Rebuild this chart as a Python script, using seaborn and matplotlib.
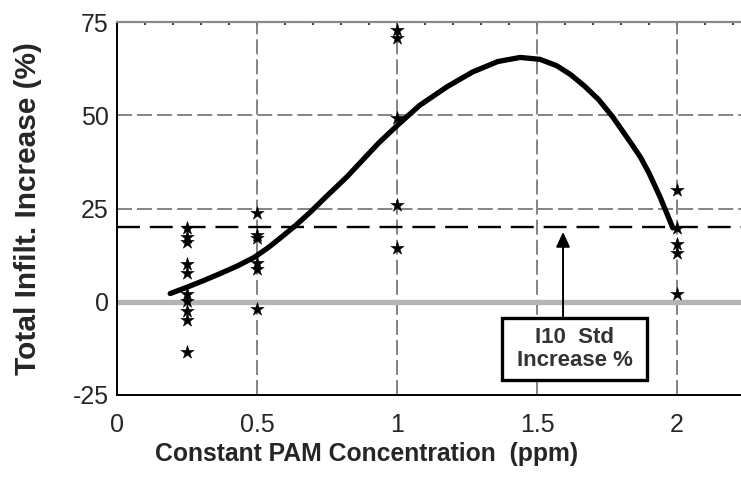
import numpy as np
import pandas as pd
import matplotlib
matplotlib.use("Agg")
import matplotlib.pyplot as plt
import matplotlib.patches as mpatches
import seaborn as sns
from matplotlib.ticker import MultipleLocator, FixedLocator, NullFormatter

# ---- data ----
obs_x_025 = [0.25] * 10
obs_y_025 = [19.7, 17.3, 15.9, 10.2, 7.8, 2.2, 0.3, -2.5, -5.0, -13.5]
obs_x_05 = [0.5] * 6
obs_y_05 = [23.7, 17.8, 17.0, 10.5, 8.9, -1.9]
obs_x_1 = [1.0] * 5
obs_y_1 = [72.8, 70.7, 49.3, 25.9, 14.3]
obs_x_2 = [2.0] * 5
obs_y_2 = [29.9, 19.8, 15.6, 13.0, 2.0]

curve_x = [0.19, 0.25, 0.31, 0.37, 0.43, 0.49, 0.54, 0.59, 0.64, 0.69, 0.75,
           0.82, 0.88, 0.935, 1.00, 1.08, 1.18, 1.27, 1.36, 1.44, 1.51,
           1.57, 1.62, 1.67, 1.72, 1.77, 1.835, 1.87, 1.90, 1.94, 1.985]
curve_y = [2.2, 3.9, 5.7, 7.6, 9.6, 11.9, 14.5, 17.5, 20.6, 24.0, 28.4,
           33.4, 38.2, 42.6, 47.2, 52.6, 57.7, 61.6, 64.4, 65.5, 65.0,
           63.3, 60.9, 57.8, 54.2, 49.6, 42.6, 38.7, 34.5, 28.0, 19.8]

std_increase = 20.0
x_ticks = [0, 0.5, 1, 1.5, 2]
x_tick_labels = ["0", "0.5", "1", "1.5", "2"]
y_ticks = [-25, 0, 25, 50, 75]
y_tick_labels = ["-25", "0", "25", "50", "75"]
x_label = "Constant PAM Concentration  (ppm)"
y_label = "Total Infilt. Increase (%)"
box_text = "I10  Std\nIncrease %"

obs = pd.DataFrame({
    "x": obs_x_025 + obs_x_05 + obs_x_1 + obs_x_2,
    "y": obs_y_025 + obs_y_05 + obs_y_1 + obs_y_2,
})
curve = pd.DataFrame({"x": curve_x, "y": curve_y})

# ---- style ----
sns.set_style("white")
plt.rcParams["font.family"] = ["Liberation Sans", "DejaVu Sans"]

fig = plt.figure(figsize=(7.41, 4.78), dpi=100)
ax = fig.add_axes([117 / 741, 83 / 478, (741 - 117) / 741, 373 / 478])

ax.set_xlim(0, (741 - 117) / 280)
ax.set_ylim(-25, 75)

# grid lines
grid_kw = dict(color="#7a7a7a", lw=1.3, dashes=(8.3, 2.8), zorder=1)
for gx in [0.5, 1.0, 1.5, 2.0]:
    ax.axvline(gx, **grid_kw)
for gy in [25, 50]:
    ax.axhline(gy, **grid_kw)
ax.axhline(0, color="#b4b4b4", lw=3.8, zorder=1.5)
ax.axhline(std_increase, color="black", lw=1.7, dashes=(9.7, 4.2), zorder=2)

# data
sns.lineplot(data=curve, x="x", y="y", ax=ax, color="black", lw=3.8,
             sort=False, estimator=None, zorder=4,
             solid_capstyle="round", solid_joinstyle="round")
sns.scatterplot(data=obs, x="x", y="y", ax=ax, marker="*", s=105,
                color="black", edgecolor="black", linewidth=0.3, zorder=5)

# annotation box and arrow
ax.annotate("", xy=(1.593, 18.7), xytext=(1.593, -4.4),
            arrowprops=dict(arrowstyle="-|>,head_length=0.9,head_width=0.42",
                            color="black", lw=1.4, shrinkA=0, shrinkB=0),
            zorder=6)
ax.add_patch(mpatches.Rectangle((1.375, -21.0), 1.893 - 1.375, 21.0 - 4.4,
                                fc="white", ec="black", lw=2.4, zorder=7))
ax.text(1.634, -12.7, box_text, ha="center", va="center", fontsize=16,
        fontweight="bold", color="#333333", linespacing=1.12, zorder=8)

# spines
for side in ["left", "bottom"]:
    ax.spines[side].set_color("black")
    ax.spines[side].set_linewidth(1.4)
ax.spines["right"].set_visible(False)
ax.spines["top"].set_color("#8a8a8a")
ax.spines["top"].set_linewidth(1.6)

# ticks
ax.xaxis.set_major_locator(FixedLocator(x_ticks))
ax.yaxis.set_major_locator(FixedLocator(y_ticks))
ax.set_xticklabels(x_tick_labels, fontsize=18)
ax.set_yticklabels(y_tick_labels, fontsize=18)
ax.xaxis.set_minor_locator(MultipleLocator(0.1))
ax.yaxis.set_minor_locator(MultipleLocator(5))
ax.tick_params(axis="both", which="major", direction="in", length=8, width=3,
               color="#b0b0b0")
ax.tick_params(axis="x", which="major", pad=13)
ax.tick_params(axis="y", which="major", pad=6)
ax.tick_params(axis="x", which="minor", direction="inout", length=8, width=1.2,
               color="black")
ax.tick_params(axis="y", which="minor", direction="in", length=4, width=1.4,
               color="black")

# small tick dots along the top line
top = ax.secondary_xaxis("top")
top.xaxis.set_major_locator(FixedLocator([]))
top.xaxis.set_minor_locator(MultipleLocator(0.1))
top.xaxis.set_minor_formatter(NullFormatter())
top.tick_params(which="minor", direction="in", length=2.5, width=1.5,
                color="#444444")
top.spines["top"].set_visible(False)

ax.set_xlabel(x_label, fontsize=17.8, fontweight="bold", labelpad=5)
ax.xaxis.set_label_coords((367 - 117) / 624, -0.125)
ax.set_ylabel(y_label, fontsize=21.5, fontweight="bold", labelpad=22)

fig.savefig("out.png", dpi=100)
